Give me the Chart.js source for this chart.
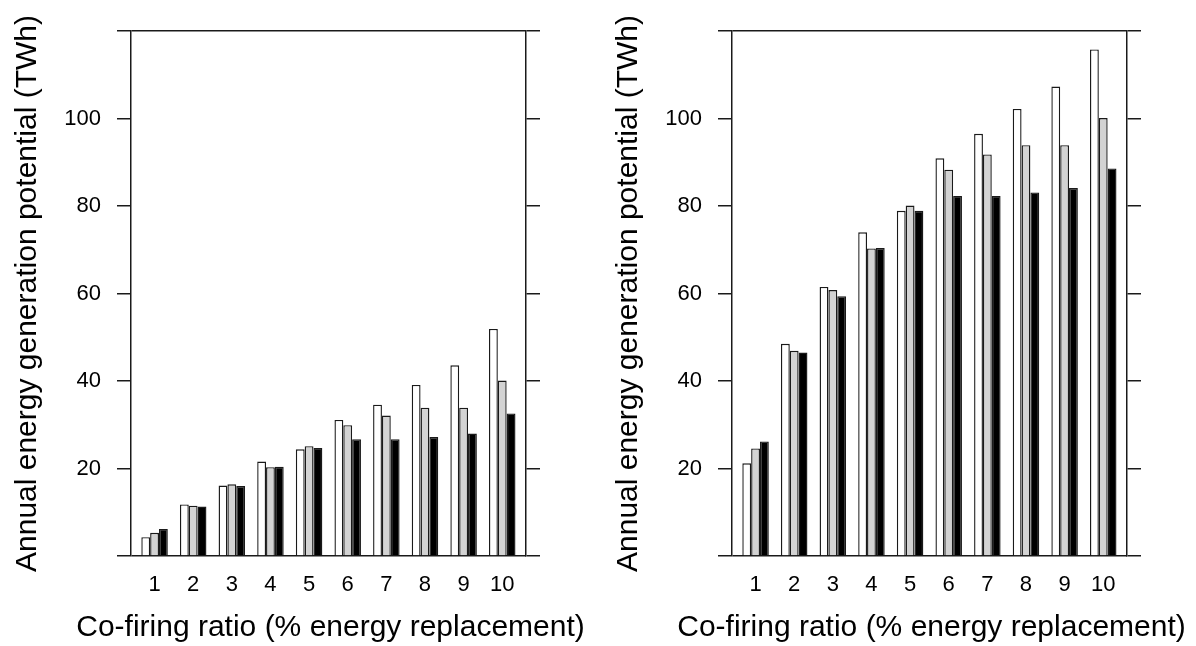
<!DOCTYPE html>
<html><head><meta charset="utf-8">
<script src="https://cdn.jsdelivr.net/npm/chart.js@4.4.1/dist/chart.umd.min.js"></script>
<style>
html,body{margin:0;padding:0;background:#fff;}
#wrap{position:relative;width:1196px;height:646px;background:#fff;}
.panel{position:absolute;top:0;width:598px;height:646px;}
</style></head><body>
<div id="wrap">
<div class="panel" style="left:0"><canvas id="c1" width="598" height="646"></canvas></div>
<div class="panel" style="left:598px"><canvas id="c2" width="598" height="646"></canvas></div>
</div>
<script>
const categories = ['1','2','3','4','5','6','7','8','9','10'];
const yTickValues = [0, 20, 40, 60, 80, 100, 120];
const yTickLabels = [20, 40, 60, 80, 100];
const xTitle = 'Co-firing ratio (% energy replacement)';
const yTitle = 'Annual energy generation potential (TWh)';

const leftWhite = [4.3, 11.8, 16.1, 21.6, 24.4, 31.1, 34.6, 39.1, 43.6, 51.9];
const leftGray  = [5.3, 11.5, 16.4, 20.3, 25.1, 29.9, 32.1, 33.9, 33.9, 40.1];
const leftBlack = [6.2, 11.3, 16.0, 20.4, 24.7, 26.7, 26.7, 27.2, 28.0, 32.6];

const rightWhite = [21.2, 48.5, 61.5, 74.0, 78.9, 90.9, 96.5, 102.2, 107.3, 115.8];
const rightGray  = [24.6, 46.9, 60.8, 70.3, 80.1, 88.3, 91.8, 93.9, 93.9, 100.1];
const rightBlack = [26.2, 46.5, 59.4, 70.4, 78.9, 82.3, 82.3, 83.1, 84.1, 88.6];

const FONT = '"Liberation Sans", Arial, Helvetica, sans-serif';
const INK = '#1a1a1a';

// draws the x-axis title centred under the plot area without width compression
const xTitlePlugin = {
  id: 'xTitlePlugin',
  afterDraw(chart, args, opts) {
    const {ctx, chartArea} = chart;
    ctx.save();
    ctx.font = '30px ' + FONT;
    ctx.fillStyle = '#000';
    ctx.textAlign = 'center';
    ctx.textBaseline = 'alphabetic';
    ctx.fillText(opts.text, (chartArea.left + chartArea.right) / 2 + 2, 636);
    ctx.restore();
  }
};

function makeChart(id, white, gray, black, yWidth, y2Width, titlePad) {
  const mk = arr => arr.map((v, i) => ({x: i + 1, y: v}));
  const ds = (arr, bg) => ({
    data: mk(arr), backgroundColor: bg, borderColor: INK, borderWidth: 1.4,
    borderSkipped: 'start', categoryPercentage: 0.686, barPercentage: 1
  });
  return new Chart(document.getElementById(id), {
    type: 'bar',
    data: {datasets: [ds(white, '#ffffff'), ds(gray, '#d3d3d3'), ds(black, '#000000')]},
    plugins: [xTitlePlugin],
    options: {
      responsive: false, animation: false,
      layout: {padding: {top: 31, left: 0, right: 0, bottom: 0}},
      plugins: {legend: {display: false}, tooltip: {enabled: false}, xTitlePlugin: {text: xTitle}},
      scales: {
        x: {
          type: 'linear', min: 0.39, max: 10.615, offset: false,
          afterBuildTicks: s => { s.ticks = categories.map((c, i) => ({value: i + 1})); },
          ticks: {
            callback: v => categories[Math.round(v) - 1] || '',
            font: {family: FONT, size: 22}, color: '#000', padding: 8,
            autoSkip: false, maxRotation: 0
          },
          grid: {display: false},
          border: {display: false},
          title: {display: false},
          afterFit: s => { s.height = 90; }
        },
        y: {
          position: 'left', min: 0, max: 120,
          afterBuildTicks: s => { s.ticks = yTickValues.map(v => ({value: v})); },
          ticks: {
            callback: v => yTickLabels.includes(v) ? String(v) : '',
            font: {family: FONT, size: 22}, color: '#000', padding: 16
          },
          grid: {
            drawOnChartArea: true, tickLength: 14, lineWidth: 1.5,
            color: ctx => (ctx.tick && (ctx.tick.value === 0 || ctx.tick.value === 120)) ? INK : 'rgba(0,0,0,0)',
            tickColor: INK
          },
          border: {display: true, color: INK, width: 1.5},
          title: {display: true, text: yTitle, color: '#000',
                  font: {family: FONT, size: 30}, padding: {top: titlePad, bottom: 0}},
          afterFit: s => { s.width = yWidth; }
        },
        y2: {
          position: 'right', min: 0, max: 120,
          afterBuildTicks: s => { s.ticks = yTickValues.map(v => ({value: v})); },
          ticks: {callback: () => '', font: {family: FONT, size: 22}, color: 'rgba(0,0,0,0)', padding: 0},
          grid: {drawOnChartArea: false, tickLength: 14, lineWidth: 1.5, color: INK, tickColor: INK},
          border: {display: true, color: INK, width: 1.5},
          afterFit: s => { s.width = y2Width; }
        }
      }
    }
  });
}

makeChart('c1', leftWhite, leftGray, leftBlack, 131, 72, 10);
makeChart('c2', rightWhite, rightGray, rightBlack, 134, 69, 13);
</script>
</body></html>
